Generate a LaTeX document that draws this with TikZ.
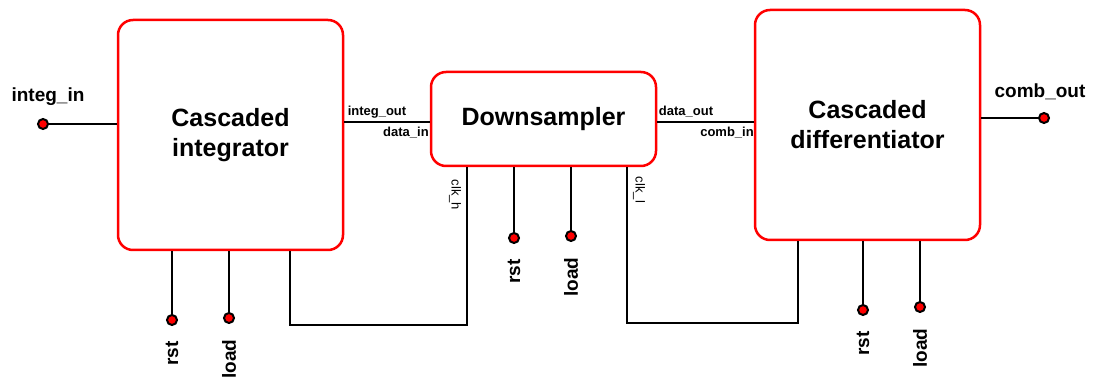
\documentclass[tikz,border=0pt]{standalone}
\usepackage{fontspec}
\setmainfont{Liberation Sans}
\tikzset{
  block/.style={draw=red, line width=2.5pt, rounded corners=15pt, align=center,
    font=\fontsize{25}{30}\selectfont\bfseries},
  wire/.style={line width=2.5pt},
  pindot/.style={circle, draw=black, fill=red, line width=2pt, inner sep=0pt, minimum size=10pt},
  pinname/.style={font=\fontsize{19}{22}\selectfont\bfseries},
  portname/.style={font=\fontsize{13}{15}\selectfont\bfseries, inner sep=0pt},
  clkname/.style={font=\fontsize{13}{15}\selectfont, inner sep=0pt, rotate=-90}
}
\begin{document}
\begin{tikzpicture}[x=1pt, y=1pt]
\useasboundingbox (0,0) rectangle (1094,383);
% blocks
\node[block, minimum width=225pt, minimum height=230pt] (integ) at (230.5,248) {Cascaded\\integrator};
\node[block, minimum width=225pt, minimum height=94pt] (down) at (543.5,264) {Downsampler};
\node[block, minimum width=225pt, minimum height=230pt] (diff) at (867.5,258) {Cascaded\\differentiator};
% input / output
\node[pindot] (integin) at (43,259) {};
\node[pinname] (integinlbl) at (48,286) {integ\_in};
\draw[wire] (integin) -- (integin -| integ.west);
\node[pindot] (combout) at (1044,265) {};
\node[pinname] (comboutlbl) at (1040,291) {comb\_out};
\draw[wire] (combout) -- (combout -| diff.east);
% data path
\draw[wire] ([yshift=-3pt]down.west) -- ([yshift=-3pt]down.west -| integ.east);
\node[portname] (integoutlbl) at (377,271) {integ\_out};
\node[portname] (datainlbl) at (406,250) {data\_in};
\draw[wire] ([yshift=-3pt]down.east) -- ([yshift=-3pt]down.east -| diff.west);
\node[portname] (dataoutlbl) at (686,271) {data\_out};
\node[portname] (comblbl) at (727,250) {comb\_in};
% clocks
\coordinate (clkh) at (467,58);
\draw[wire] (integ.south -| 290,0) |- (clkh) -- (clkh |- down.south);
\node[clkname] (clkhlbl) at (455,188) {clk\_h};
\coordinate (clkl) at (627,60);
\draw[wire] (down.south -| clkl) -- (clkl) -| (diff.south -| 798,0);
\node[clkname] (clkllbl) at (639,193) {clk\_l};
% rst / load pins
\foreach \name/\px/\py/\txt in {irst/172/63/rst, iload/229/65/load,
    drst/514/145/rst, dload/571/147/load,
    crst/863/73/rst, cload/920/76/load} {
  \node[pindot] (\name) at (\px,\py) {};
  \node[pinname, rotate=90, anchor=east] (\name lbl) at ([yshift=-12pt]\name.south) {\txt};
}
\draw[wire] (irst) -- (irst |- integ.south);
\draw[wire] (iload) -- (iload |- integ.south);
\draw[wire] (drst) -- (drst |- down.south);
\draw[wire] (dload) -- (dload |- down.south);
\draw[wire] (crst) -- (crst |- diff.south);
\draw[wire] (cload) -- (cload |- diff.south);
\end{tikzpicture}
\end{document}
